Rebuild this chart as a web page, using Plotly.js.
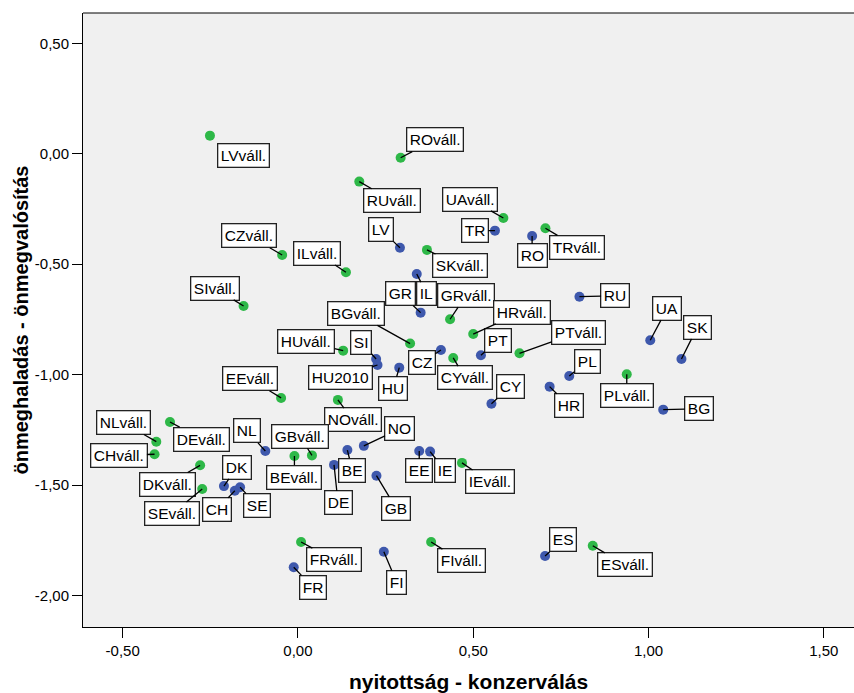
<!DOCTYPE html>
<html>
<head>
<meta charset="utf-8">
<script src="https://cdn.plot.ly/plotly-3.0.1.min.js"></script>
<style>html,body{margin:0;padding:0;background:#fff;}#chart{width:854px;height:693px;}</style>
</head>
<body>
<div id="chart"></div>
<script>
// Countries (blue)
const blueLabels = ["LV","TR","RO","RU","UA","SK","IL","GR","SI","HU2010","HU","CZ","PT","CY","PL","HR","BG","NL","DK","CH","SE","DE","BE","NO","GB","EE","IE","FR","FI","ES"];
const blueX = [0.291,0.562,0.668,0.803,1.005,1.094,0.339,0.350,0.223,0.227,0.289,0.408,0.522,0.552,0.774,0.718,1.042,-0.093,-0.211,-0.180,-0.165,0.103,0.141,0.188,0.224,0.346,0.377,-0.012,0.245,0.705];
const blueY = [-0.425,-0.348,-0.372,-0.647,-0.844,-0.929,-0.544,-0.719,-0.929,-0.956,-0.968,-0.888,-0.912,-1.131,-1.006,-1.054,-1.158,-1.345,-1.504,-1.525,-1.509,-1.408,-1.341,-1.322,-1.457,-1.345,-1.348,-1.871,-1.801,-1.820];

// Entrepreneurs (green)
const greenLabels = ["LVváll.","ROváll.","RUváll.","UAváll.","TRváll.","SKváll.","ILváll.","CZváll.","SIváll.","GRváll.","HRváll.","BGváll.","PTváll.","HUváll.","CYváll.","PLváll.","EEváll.","NOváll.","NLváll.","DEváll.","CHváll.","DKváll.","SEváll.","GBváll.","BEváll.","IEváll.","FRváll.","FIváll.","ESváll."];
const greenX = [-0.251,0.293,0.175,0.586,0.706,0.368,0.137,-0.045,-0.155,0.434,0.500,0.320,0.632,0.129,0.443,0.938,-0.048,0.114,-0.404,-0.365,-0.409,-0.279,-0.273,0.040,-0.010,0.468,0.009,0.380,0.841];
const greenY = [0.082,-0.018,-0.126,-0.291,-0.337,-0.435,-0.536,-0.458,-0.689,-0.749,-0.816,-0.859,-0.903,-0.891,-0.924,-0.998,-1.105,-1.114,-1.303,-1.214,-1.360,-1.410,-1.517,-1.365,-1.368,-1.399,-1.757,-1.757,-1.774];

// Axis ticks
const xTickVals = [-0.5, 0, 0.5, 1, 1.5];
const xTickText = ["-0,50", "0,00", "0,50", "1,00", "1,50"];
const yTickVals = [-2, -1.5, -1, -0.5, 0, 0.5];
const yTickText = ["-2,00", "-1,50", "-1,00", "-0,50", "0,00", "0,50"];

// label box offsets in pixels (layout only)
const blueOffsets = [[-19,-18],[-20,0],[0,20],[36,-1],[17,-32],[16,-32],[10,20],[-20,-19],[-15,-17],[-37,12],[-6,21],[-19,13],[17,-15],[19,-17],[18,-15],[19,19],[36,-1],[-18,-20],[13,-19],[-18,19],[17,18],[4,38],[5,20],[36,-17],[20,33],[0,20],[15,19],[19,20],[13,31],[18,-16]];
const greenOffsets = [[34,20],[34,-18],[33,19],[-33,-19],[32,19],[33,16],[-29,-19],[-33,-19],[-29,-18],[16,-24],[49,-22],[-54,-30],[59,-21],[-37,-9],[12,20],[0,21],[-31,-19],[15,20],[-33,-19],[32,17],[-36,1],[-33,19],[-30,25],[-12,-19],[0,21],[28,19],[33,18],[30,19],[32,19]];

const BLUE = "#3E58AC", GREEN = "#2EB848";
const FONT = "'Liberation Sans', Arial, sans-serif";

const traces = [
  {type:"scatter", mode:"markers", name:"ország", x:blueX, y:blueY, text:blueLabels,
   marker:{color:BLUE, size:10, line:{width:0}}, hoverinfo:"text"},
  {type:"scatter", mode:"markers", name:"vállalkozók", x:greenX, y:greenY, text:greenLabels,
   marker:{color:GREEN, size:10, line:{width:0}}, hoverinfo:"text"}
];

function makeAnn(lbls, xs, ys, offs){
  return lbls.map((t,i)=>({
    x:xs[i], y:ys[i], xref:"x", yref:"y", text:t,
    showarrow:true, arrowhead:0, arrowwidth:1.3, arrowcolor:"#000", standoff:0,
    ax:offs[i][0], ay:offs[i][1],
    font:{family:FONT, size:15.5, color:"#000"},
    bgcolor:"#fff", bordercolor:"#222", borderwidth:1.3, borderpad:2.5
  }));
}
const annotations = makeAnn(blueLabels, blueX, blueY, blueOffsets)
  .concat(makeAnn(greenLabels, greenX, greenY, greenOffsets));

const layout = {
  width:854, height:693,
  margin:{l:83, r:0, t:13, b:66},
  paper_bgcolor:"#fff", plot_bgcolor:"#F0F0F0",
  separators:", ",
  showlegend:false,
  font:{family:FONT, color:"#000"},
  xaxis:{
    range:[-0.6131,1.5862], tickmode:"array", tickvals:xTickVals, ticktext:xTickText,
    showgrid:false, zeroline:false, showline:true, linecolor:"#000", linewidth:1,
    ticks:"outside", ticklen:10, tickwidth:1, tickcolor:"#000",
    tickfont:{family:FONT, size:15, color:"#000"},
    title:{text:"nyitottság - konzerválás", font:{family:FONT, size:21, color:"#000", weight:"bold"}, standoff:16}
  },
  yaxis:{
    range:[-2.1417,0.637], tickmode:"array", tickvals:yTickVals, ticktext:yTickText,
    showgrid:false, zeroline:false, showline:true, linecolor:"#000", linewidth:1,
    ticks:"outside", ticklen:10, tickwidth:1, tickcolor:"#000",
    tickfont:{family:FONT, size:15, color:"#000"},
    title:{text:"önmeghaladás - önmegvalósítás", font:{family:FONT, size:20, color:"#000", weight:"bold"}, standoff:0}
  },
  shapes:[{type:"line", xref:"paper", yref:"paper", x0:0, x1:1, y0:1, y1:1, line:{color:"#000", width:1}}],
  annotations:annotations
};

Plotly.newPlot("chart", traces, layout, {displayModeBar:false, staticPlot:true});
</script>
</body>
</html>
